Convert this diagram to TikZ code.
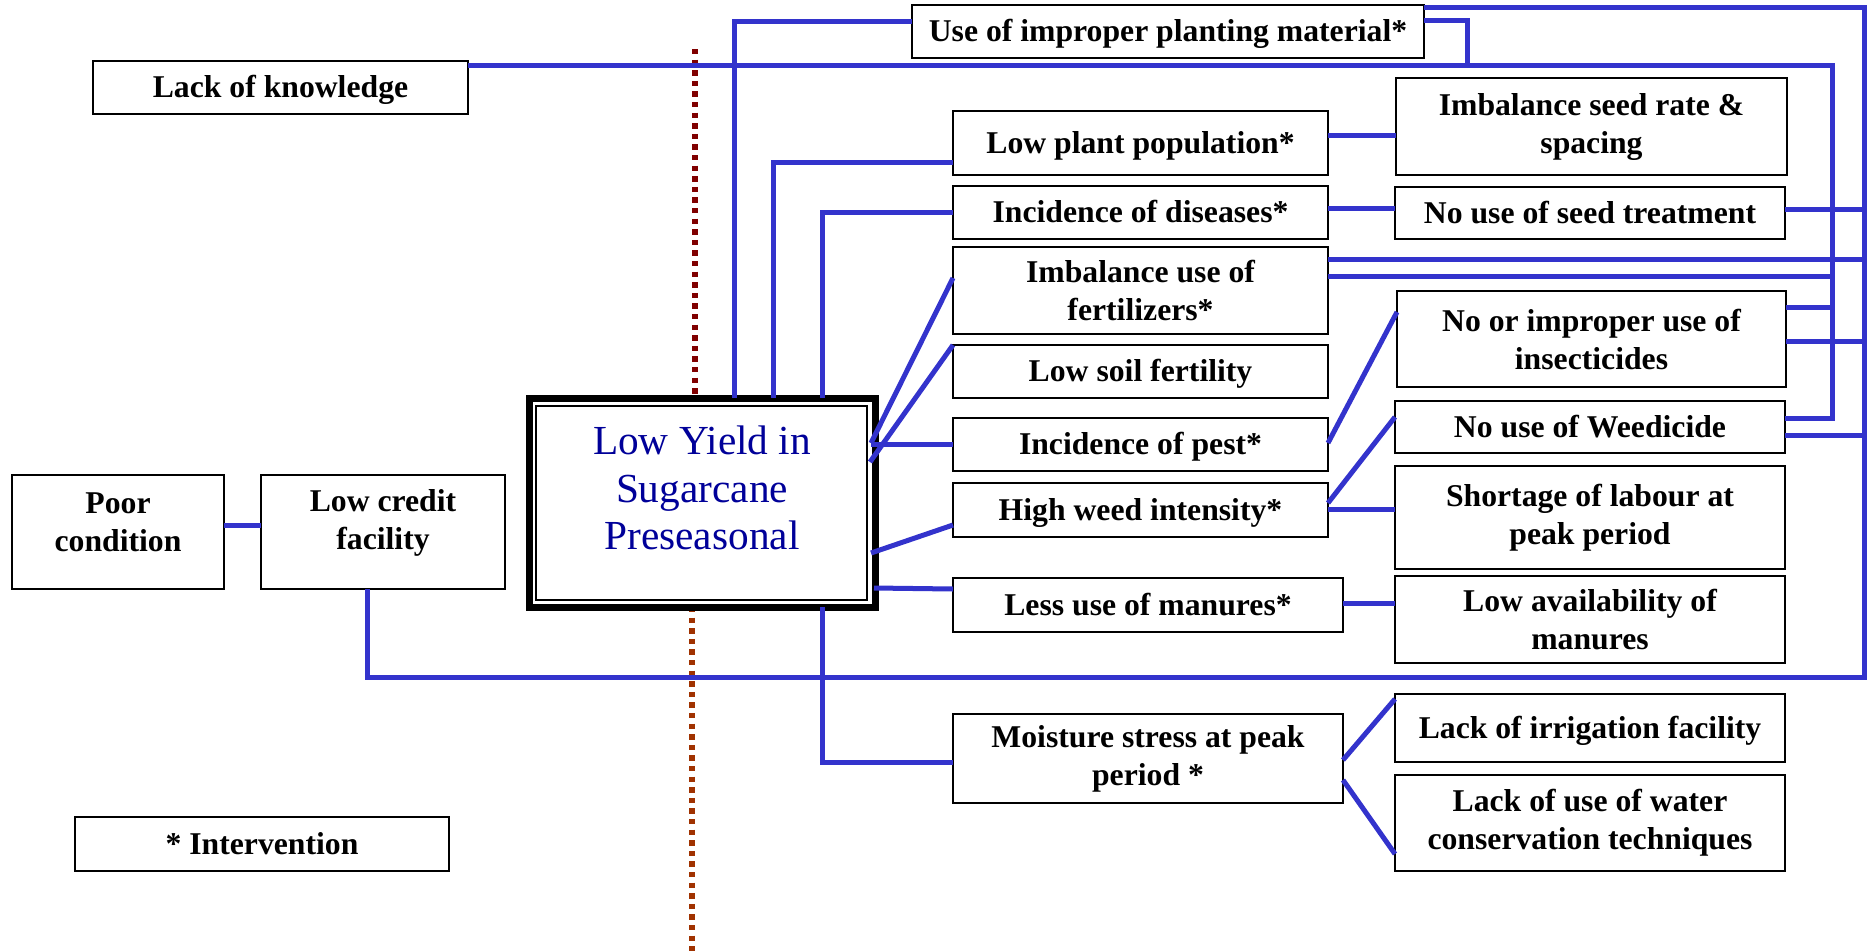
\documentclass[tikz,border=0pt]{standalone}
\usepackage{fontspec}
\setmainfont{Liberation Serif}
\definecolor{lineblue}{RGB}{51,51,204}
\definecolor{titleblue}{RGB}{0,0,153}
\definecolor{dotred}{RGB}{128,0,0}
\definecolor{dotbrown}{RGB}{160,50,0}
\tikzset{
  box/.style={draw=black, line width=2.8pt, fill=white, inner sep=0pt, outer sep=0pt,
    align=center, font=\bfseries\fontsize{31.7}{38}\selectfont},
  oneline/.style={text height=27pt, text depth=7pt},
  conn/.style={draw=lineblue, line width=5pt},
  dotline/.style={line width=5.3pt, dash pattern=on 5.3pt off 5.3pt},
}
\begin{document}
\begin{tikzpicture}[x=1pt,y=-1pt]
\useasboundingbox (0,0) rectangle (1869,951);

% dotted divider
\coordinate (dtop) at (695,49);
\coordinate (dbot) at (692,951);
\coordinate (dmid) at (695,398);
\coordinate (dmid2) at (692,607);
\draw[dotline, dotred] (dtop) -- (dmid);
\draw[dotline, dotbrown] (dmid2) -- (dbot);

% central box
\node[draw=black, line width=7pt, fill=white, minimum width=346pt, minimum height=209pt,
  inner sep=0pt, outer sep=0pt] (cent) at (702,502.5) {};
\draw[line width=1.7pt] ([shift={(7pt,-8pt)}]cent.north west) rectangle ([shift={(-8pt,7pt)}]cent.south east);
\node[font=\fontsize{41.3}{47.5}\selectfont, text=titleblue, align=center] (title) at (702,488)
  {Low Yield in\\ Sugarcane\\ Preseasonal};

% boxes
\node[box, oneline, minimum width=375pt, minimum height=53pt] (know) at (280.5,87.5) {Lack of knowledge};
\node[box, oneline, minimum width=512pt, minimum height=53pt] (imp) at (1168,31.5) {Use of improper planting material*};
\node[box, oneline, minimum width=375pt, minimum height=64pt] (lpp) at (1140.5,143) {Low plant population*};
\node[box, minimum width=391pt, minimum height=97pt] (seed) at (1591.5,126.5) {Imbalance seed rate \&\\ spacing};
\node[box, oneline, minimum width=375pt, minimum height=53pt] (dis) at (1140.5,212.5) {Incidence of diseases*};
\node[box, oneline, minimum width=390pt, minimum height=52pt] (treat) at (1590,213) {No use of seed treatment};
\node[box, minimum width=375pt, minimum height=87pt] (fert) at (1140.5,290.5) {Imbalance use of\\ fertilizers*};
\node[box, oneline, minimum width=375pt, minimum height=53pt] (soil) at (1140.5,371.5) {Low soil fertility};
\node[box, minimum width=389pt, minimum height=96pt] (insect) at (1591.5,339) {No or improper use of\\ insecticides};
\node[box, oneline, minimum width=375pt, minimum height=53pt] (pest) at (1140.5,444.5) {Incidence of pest*};
\node[box, oneline, minimum width=390pt, minimum height=52pt] (weedi) at (1590,427) {No use of Weedicide};
\node[box, oneline, minimum width=375pt, minimum height=54pt] (weed) at (1140.5,510) {High weed intensity*};
\node[box, minimum width=390pt, minimum height=103pt] (labour) at (1590,517.5) {Shortage of labour at\\ peak period};
\node[box, oneline, minimum width=390pt, minimum height=54pt] (man) at (1148,605) {Less use of manures*};
\node[box, minimum width=390pt, minimum height=87pt] (avail) at (1590,619.5) {Low availability of\\ manures};
\node[box, minimum width=390pt, minimum height=89pt] (moist) at (1148,758.5) {Moisture stress at peak\\ period *};
\node[box, oneline, minimum width=390pt, minimum height=68pt] (irr) at (1590,728) {Lack of irrigation facility};
\node[box, minimum width=390pt, minimum height=96pt] (water) at (1590,823) {Lack of use of water\\ conservation techniques};
\node[box, text depth=19pt, minimum width=212pt, minimum height=114pt] (poor) at (118,532) {Poor\\ condition};
\node[box, text depth=26pt, minimum width=244pt, minimum height=114pt] (credit) at (383,532) {Low credit\\ facility};
\node[box, oneline, minimum width=374pt, minimum height=54pt] (interv) at (262,844) {* Intervention};

% bus coordinates
\coordinate (busItop) at (1832,65);
\coordinate (busIbot) at (1832,421);
\coordinate (busOtop) at (1864,7);
\coordinate (busObot) at (1864,677);
\coordinate (stub) at (1467,65);

% connectors: top / left side of centre
\draw[conn] ([yshift=10.5pt]imp.west) -| ([xshift=32pt]cent.north);
\draw[conn] ([yshift=-19pt]lpp.west) -| ([xshift=71pt]cent.north);
\draw[conn] (dis.west) -| ([xshift=120pt]cent.north);
\draw[conn] ([xshift=120pt]cent.south) |- ([yshift=-3.5pt]moist.west);

% connectors: right side of centre
\draw[conn] ([shift={(-4pt,59.5pt)}]cent.east) -- ([yshift=12.5pt]fert.west);
\draw[conn] ([shift={(-5pt,40.5pt)}]cent.east) -- (soil.north west);
\draw[conn] ([shift={(-4pt,58pt)}]cent.east) -- (pest.west);
\draw[conn] ([shift={(-4pt,-50.5pt)}]cent.east) -- ([yshift=-15pt]weed.west);
\draw[conn] ([shift={(-1pt,-85.5pt)}]cent.east) -- ([yshift=16pt]man.west);

% second level
\draw[conn] ([yshift=8pt]lpp.east) -- ([yshift=-8.5pt]seed.west);
\draw[conn] ([yshift=4.5pt]dis.east) -- ([yshift=5pt]treat.west);
\draw[conn] ([yshift=1.5pt]pest.east) -- ([yshift=27pt]insect.west);
\draw[conn] ([yshift=7pt]weed.east) -- ([yshift=10pt]weedi.west);
\draw[conn] ([yshift=1pt]weed.east) -- ([yshift=8.5pt]labour.west);
\draw[conn] ([yshift=2pt]man.east) -- ([yshift=16.5pt]avail.west);
\draw[conn] ([yshift=-1.5pt]moist.east) -- ([yshift=29pt]irr.west);
\draw[conn] ([yshift=-21.5pt]moist.east) -- ([yshift=-31pt]water.west);

% left side
\draw[conn] ([yshift=6.3pt]poor.east) -- ([yshift=6.3pt]credit.west);

% buses
\draw[conn] ([yshift=22.5pt]know.east) -- (busItop) -- (busIbot);
\draw[conn] ([yshift=24.5pt]imp.east) -- (busOtop) -- (busObot) -| ([xshift=-16pt]credit.south);
\draw[conn] ([yshift=11.5pt]imp.east) -| (stub);
\draw[conn] ([yshift=4pt]treat.east) coordinate (t1) -- (t1 -| busOtop);
\draw[conn] ([yshift=31.5pt]fert.east) coordinate (f1) -- (f1 -| busOtop);
\draw[conn] ([yshift=14.5pt]fert.east) coordinate (f2) -- (f2 -| busItop);
\draw[conn] ([yshift=32pt]insect.east) coordinate (i1) -- (i1 -| busItop);
\draw[conn] ([yshift=-2pt]insect.east) coordinate (i2) -- (i2 -| busOtop);
\draw[conn] ([yshift=9pt]weedi.east) coordinate (w1) -- (w1 -| busItop);
\draw[conn] ([yshift=-8pt]weedi.east) coordinate (w2) -- (w2 -| busOtop);
\end{tikzpicture}
\end{document}
